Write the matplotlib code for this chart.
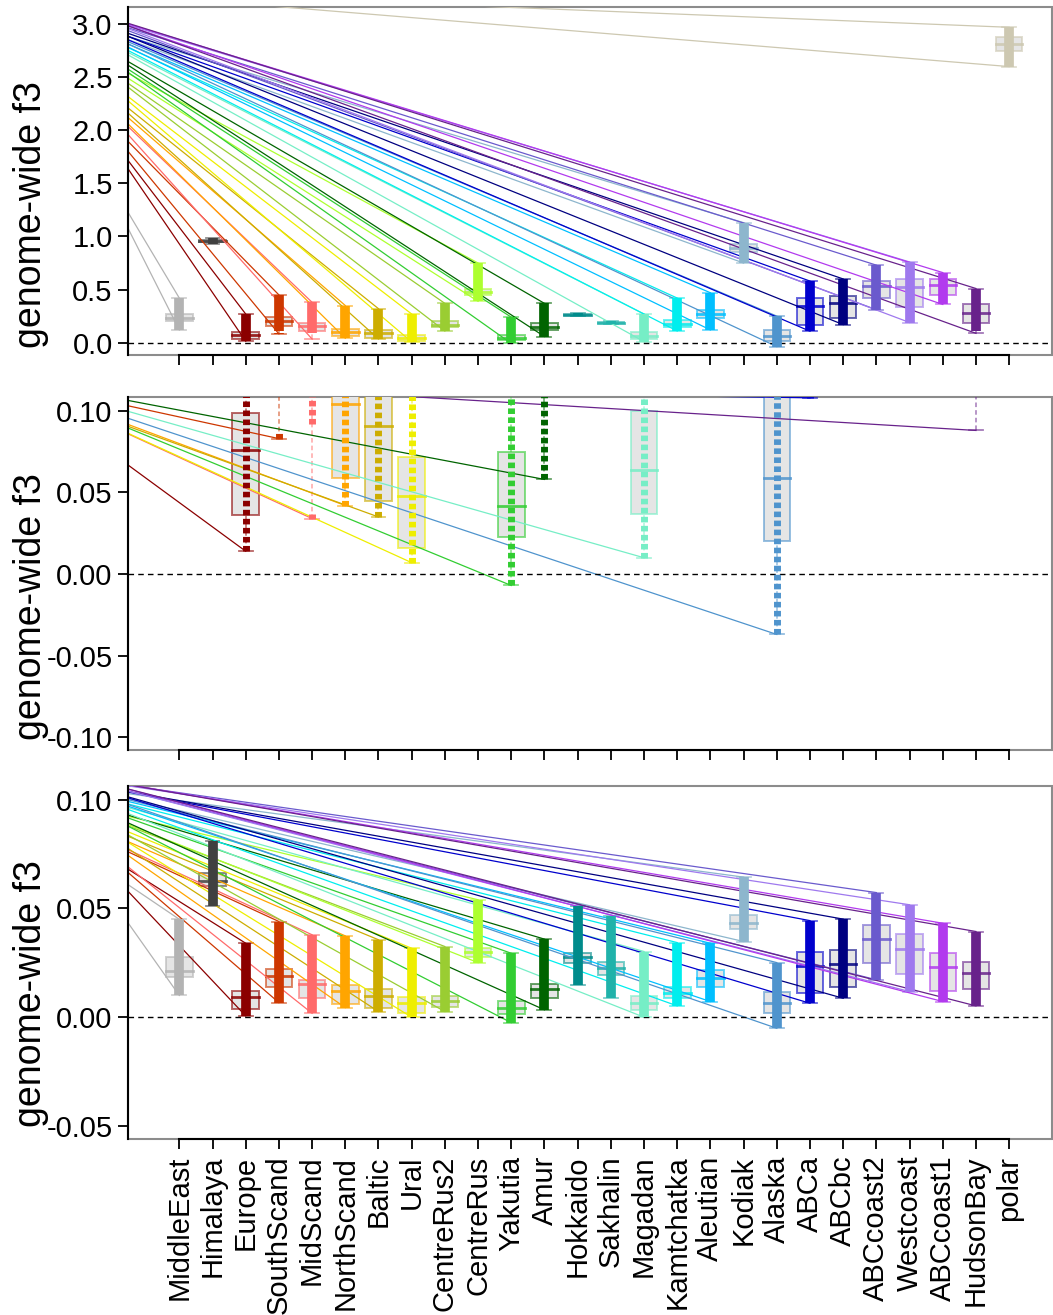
import numpy as np
import matplotlib
matplotlib.use("Agg")
import matplotlib.pyplot as plt
from matplotlib.patches import Rectangle
from matplotlib.colors import to_rgba

plt.rcParams['font.family'] = ['Liberation Sans', 'DejaVu Sans']

nan = np.nan

# populations along the x axis
POPS = ["MiddleEast", "Himalaya", "Europe", "SouthScand", "MidScand", "NorthScand",
        "Baltic", "Ural", "CentreRus2", "CentreRus", "Yakutia", "Amur", "Hokkaido",
        "Sakhalin", "Magadan", "Kamtchatka", "Aleutian", "Kodiak", "Alaska", "ABCa",
        "ABCbc", "ABCcoast2", "Westcoast", "ABCcoast1", "HudsonBay", "polar"]
COLORS = ["#B3B3B3", "#404040", "#8B0000", "#CD3700", "#FF6A6A", "#FFA500",
          "#CDAD00", "#EEEE00", "#9ACD32", "#ADFF2F", "#32CD32", "#006400", "#008B8B",
          "#20B2AA", "#76EEC6", "#00EEEE", "#00BFFF", "#8DB6CD", "#4F94CD", "#0000CD",
          "#000080", "#6A5ACD", "#9F79EE", "#B23AEE", "#68228B", "#CDC8B1"]

# top + middle panel (same f3 values, middle is zoomed in)
A_MIN = [0.12, 0.93, 0.014, 0.083, 0.034, 0.042, 0.035, 0.007, 0.11, 0.39, -0.007, 0.058, 0.25,
         0.18, 0.010, 0.11, 0.12, 0.75, -0.037, 0.108, 0.17, 0.31, 0.19, 0.36, 0.088, 2.60]
A_Q1 = [0.20, 0.95, 0.036, 0.16, 0.11, 0.059, 0.045, 0.016, 0.15, 0.45, 0.023, 0.12, 0.26,
        0.185, 0.037, 0.15, 0.23, 0.85, 0.020, 0.17, 0.23, 0.42, 0.34, 0.45, 0.19, 2.75]
A_MED = [0.23, 0.96, 0.076, 0.20, 0.16, 0.104, 0.091, 0.048, 0.17, 0.48, 0.042, 0.15, 0.265,
         0.19, 0.064, 0.18, 0.27, 0.89, 0.0587, 0.35, 0.37, 0.53, 0.52, 0.54, 0.28, 2.81]
A_Q3 = [0.27, 0.97, 0.0985, 0.24, 0.19, 0.13, 0.12, 0.072, 0.20, 0.51, 0.075, 0.19, 0.27,
        0.195, 0.0997, 0.21, 0.31, 0.93, 0.12, 0.42, 0.44, 0.58, 0.60, 0.60, 0.36, 2.88]
A_MAX = [0.42, 0.99, 0.27, 0.45, 0.38, 0.35, 0.32, 0.27, 0.37, 0.75, 0.24, 0.37, 0.28,
         0.20, 0.27, 0.42, 0.47, 1.13, 0.25, 0.58, 0.60, 0.73, 0.76, 0.66, 0.51, 2.97]
# stretches of the point cloud where it is not continuous
A_CLOUD = {"SouthScand": [(0.083, 0.088), (0.11, 0.45)],
           "MidScand": [(0.034, 0.037), (0.092, 0.38)],
           "HudsonBay": [(0.11, 0.51)]}
# level the connecting lines start from (left, off panel)
A_LINE_TOP = [2.04, nan, 2.35, 2.39, 2.50, 2.54, 2.60, 2.69, 2.78, 2.80, 2.89, 2.93, nan,
              nan, 2.98, 3.00, 3.02, 3.03, 3.04, 3.06, 3.08, 3.12, 3.14, 3.15, 3.16, 3.32]
A_LINE_MID = [nan, nan, 0.090, 0.110, 0.1005, 0.1035, 0.102, 0.1007, nan, nan, 0.1025, 0.1124,
              nan, nan, 0.1087, nan, nan, nan, 0.106, 0.115, nan, nan, nan, nan, 0.121, nan]

# bottom panel
B_MIN = [0.010, 0.051, 0.0006, 0.0067, 0.0018, 0.0044, 0.0026, 0.0, 0.0026, 0.0251, -0.0025,
         0.0034, 0.0149, 0.0087, 0.0, 0.0052, 0.0072, 0.0348, -0.0051, 0.0064, 0.0087, 0.0172,
         0.0118, 0.0072, 0.0052, nan]
B_Q1 = [0.0184, 0.0601, 0.0037, 0.0138, 0.0087, 0.0061, 0.0041, 0.0018, 0.0049, 0.0279, 0.0015,
        0.0086, 0.0251, 0.0195, 0.0034, 0.0087, 0.0141, 0.0405, 0.0018, 0.011, 0.0141, 0.0248,
        0.0198, 0.0122, 0.0129, nan]
B_MED = [0.0214, 0.0628, 0.0092, 0.019, 0.0153, 0.0122, 0.0098, 0.0064, 0.0076, 0.0302, 0.0041,
         0.0129, 0.0276, 0.0225, 0.0067, 0.0113, 0.0179, 0.0435, 0.0067, 0.0236, 0.0245, 0.036,
         0.0314, 0.0233, 0.0202, nan]
B_Q3 = [0.0276, 0.0662, 0.0122, 0.0221, 0.0172, 0.0147, 0.0129, 0.0092, 0.0098, 0.032, 0.0076,
        0.0153, 0.0297, 0.0256, 0.0098, 0.0138, 0.0218, 0.047, 0.0118, 0.0302, 0.031, 0.0423,
        0.0382, 0.0294, 0.0253, nan]
B_MAX = [0.045, 0.081, 0.034, 0.044, 0.0379, 0.0374, 0.0356, 0.0317, 0.0325, 0.054, 0.0294,
         0.0359, 0.0509, 0.0463, 0.0302, 0.0343, 0.034, 0.0644, 0.0251, 0.0444, 0.0451, 0.0573,
         0.0517, 0.0432, 0.0394, nan]
B_LINE = [0.077, nan, 0.083, 0.087, 0.088, 0.091, 0.093, 0.095, 0.097, 0.098, 0.100, 0.100, nan,
          nan, 0.103, 0.104, 0.105, 0.106, 0.106, 0.108, 0.108, 0.110, 0.110, 0.111, 0.111, nan]

LINE_X0 = -2.1


def draw_panel(ax, mins, q1s, meds, q3s, maxs, line_y0, clouds, cloud_lw, cloud_ls):
    for i, pop in enumerate(POPS):
        if np.isnan(meds[i]):
            continue
        x = i + 1
        c = COLORS[i]
        mn, q1, md, q3, mx = mins[i], q1s[i], meds[i], q3s[i], maxs[i]
        light = to_rgba(c, 0.6)
        # whiskers + caps
        ax.plot([x, x], [q3, mx], color=light, lw=1.1, ls=(0, (3, 2)), zorder=2)
        ax.plot([x, x], [mn, q1], color=light, lw=1.1, ls=(0, (3, 2)), zorder=2)
        ax.plot([x - 0.21, x + 0.21], [mx, mx], color=light, lw=1.3, zorder=2)
        ax.plot([x - 0.21, x + 0.21], [mn, mn], color=light, lw=1.3, zorder=2)
        # box
        ax.add_patch(Rectangle((x - 0.4, q1), 0.8, q3 - q1, facecolor="#E5E5E5",
                               edgecolor=light, lw=1.4, zorder=2.1))
        ax.plot([x - 0.4, x + 0.4], [md, md], color=to_rgba(c, 0.85), lw=2, zorder=2.2)
        # lines coming in from the left
        if not np.isnan(line_y0[i]):
            ax.plot([LINE_X0, x], [line_y0[i], mn], color=c, lw=0.9, zorder=2.5)
            ax.plot([LINE_X0, x], [line_y0[i], mx], color=c, lw=0.9, zorder=2.5)
        # jittered samples
        for lo, hi in clouds.get(pop, [(mn, mx)]):
            ax.vlines(x, lo, hi, color=c, lw=cloud_lw, linestyles=cloud_ls, zorder=3)
    ax.axhline(0, color="black", lw=1, ls=(0, (4, 3)), zorder=2.6)


fig = plt.figure(figsize=(10.53, 13.15), dpi=100)
W, H = 1053, 1315
panels = [
    (7, 355, (-0.116, 3.161), [0, 0.5, 1, 1.5, 2, 2.5, 3], "{:.1f}"),
    (397, 750, (-0.1078, 0.1085), [-0.1, -0.05, 0, 0.05, 0.1], "{:.2f}"),
    (786, 1139, (-0.056, 0.1063), [-0.05, 0, 0.05, 0.1], "{:.2f}"),
]
label_y = [215, 607, 994]
axes = []
for k, (top, bot, ylim, yt, fmt) in enumerate(panels):
    ax = fig.add_axes([128 / W, 1 - bot / H, 924 / W, (bot - top) / H])
    ax.set_xlim(-0.546, 27.29)
    ax.set_ylim(*ylim)
    ax.set_yticks(yt)
    ax.set_yticklabels([fmt.format(v) for v in yt])
    ax.set_xticks(np.arange(1, len(POPS) + 1))
    ax.tick_params(axis="both", direction="out", length=7, width=1.3, labelsize=21,
                   color="black")
    ax.tick_params(axis="y", pad=4)
    ax.tick_params(axis="x", pad=5)
    for s in ["top", "right"]:
        ax.spines[s].set_visible(False)
    ax.spines["left"].set_linewidth(1.5)
    ax.spines["bottom"].set_linewidth(1.5)
    ax.spines["bottom"].set_bounds(1, len(POPS))
    ax.add_patch(Rectangle((0, 0), 1, 1, transform=ax.transAxes, fill=False,
                           edgecolor="#8C8C8C", lw=1.5, clip_on=False, zorder=0.5))
    if k < 2:
        ax.set_xticklabels([])
    else:
        ax.set_xticklabels(POPS, rotation=90, ha="center", va="top")
    fig.text(31 / W, 1 - label_y[k] / H, "genome-wide f3", rotation=90, fontsize=27,
             ha="center", va="center")
    axes.append(ax)

draw_panel(axes[0], A_MIN, A_Q1, A_MED, A_Q3, A_MAX, A_LINE_TOP, A_CLOUD, 7, "solid")
draw_panel(axes[1], A_MIN, A_Q1, A_MED, A_Q3, A_MAX, A_LINE_MID, A_CLOUD, 5, (0, (0.8, 0.5)))
draw_panel(axes[2], B_MIN, B_Q1, B_MED, B_Q3, B_MAX, B_LINE, {}, 7, "solid")

fig.savefig("out.png", dpi=100)
